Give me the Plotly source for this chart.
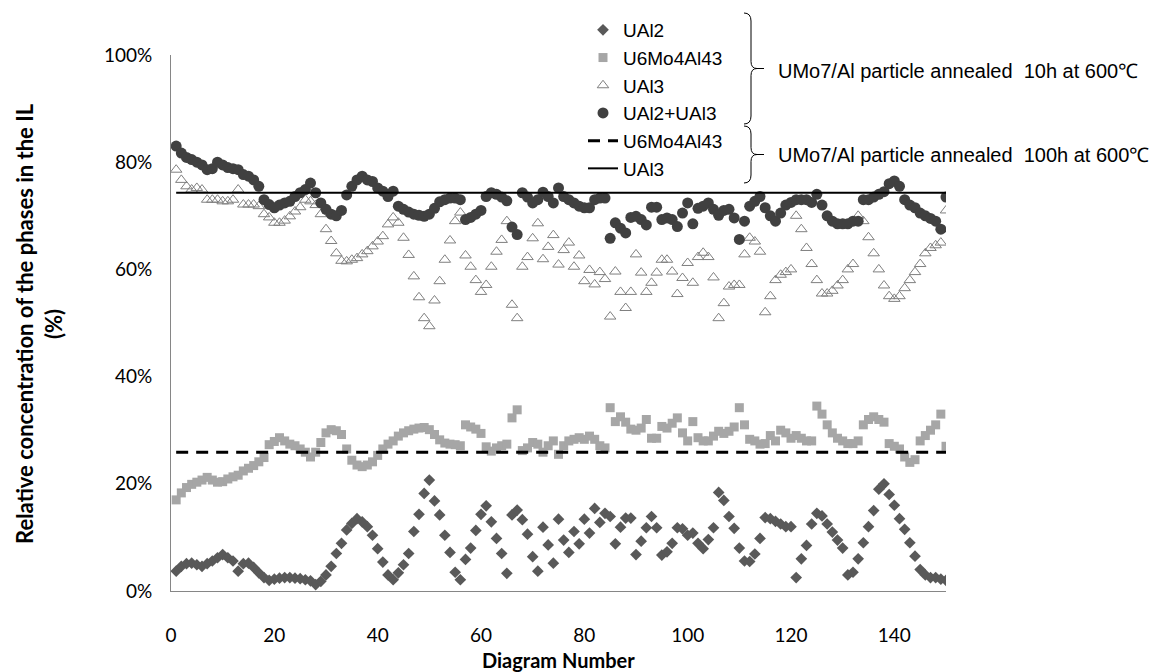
import plotly.graph_objects as go

diagram = list(range(1, 151))

ual2 = [3.7, 4.6, 5.1, 5.2, 4.9, 4.6, 5.1, 5.6, 6.2, 6.8, 6.2, 5.6, 3.7, 5.1, 5.2, 4.4, 3.4, 2.5, 2.0, 2.2,
        2.4, 2.5, 2.5, 2.4, 2.3, 2.1, 1.9, 1.2, 1.8, 3.0, 4.6, 7.0, 8.9, 11.4, 12.6, 13.5, 12.9, 12.0, 10.4, 7.9,
        5.4, 3.0, 2.1, 3.4, 4.9, 7.0, 11.1, 14.3, 18.2, 20.7, 16.8, 14.2, 10.4, 7.2, 3.5, 2.1, 5.9, 8.0, 11.3, 14.3,
        15.9, 12.9, 9.8, 7.0, 3.3, 14.2, 15.1, 13.3, 10.6, 6.4, 3.7, 11.9, 8.6, 5.2, 13.4, 9.5, 7.2, 11.1, 8.8, 13.4,
        10.8, 15.4, 12.8, 14.5, 13.9, 8.8, 11.9, 13.6, 13.6, 6.8, 9.3, 11.8, 13.9, 11.8, 6.7, 7.3, 8.9, 11.8, 11.6, 10.4,
        10.8, 8.9, 7.9, 9.6, 11.8, 18.4, 16.9, 13.9, 11.7, 8.0, 5.6, 5.5, 6.9, 9.8, 13.7, 13.5, 13.0, 12.5, 12.0, 12.0,
        2.5, 6.0, 8.5, 12.5, 14.5, 14.0, 12.5, 11.0, 9.5, 8.0, 3.0, 3.5, 6.0, 9.0, 12.0, 15.0, 19.0, 20.0, 18.0, 16.0,
        13.5, 11.5, 9.0, 6.5, 4.0, 3.0, 2.5, 2.5, 2.2, 2.0]

u6mo4al43 = [17.0, 18.3, 19.3, 19.9, 20.3, 20.7, 21.2, 20.7, 20.3, 20.4, 20.9, 21.3, 21.6, 22.4, 22.9, 23.4, 24.1, 24.9, 27.3, 27.9,
             28.6, 28.0, 27.4, 27.1, 26.5, 25.9, 25.0, 25.9, 27.7, 29.5, 30.1, 29.9, 29.2, 26.5, 24.4, 23.5, 23.2, 23.5, 24.1, 25.3,
             26.5, 27.4, 28.0, 28.9, 29.5, 29.9, 30.2, 30.4, 30.5, 30.1, 29.2, 28.2, 27.6, 27.4, 27.3, 27.1, 31.0, 30.6, 30.2, 29.4,
             26.9, 26.1, 26.7, 27.1, 27.4, 32.3, 33.8, 26.2, 26.7, 27.7, 27.4, 25.9, 27.1, 28.0, 25.5, 27.1, 28.0, 28.3, 28.6, 28.3,
             28.9, 28.3, 27.1, 26.7, 34.2, 31.6, 32.5, 31.5, 30.2, 30.0, 30.4, 32.0, 28.5, 28.5, 30.7, 30.4, 31.3, 32.3, 29.5, 28.0,
             31.6, 28.6, 28.0, 28.0, 28.9, 29.8, 29.4, 29.8, 30.6, 34.2, 31.0, 28.3, 28.0, 27.4, 27.5, 29.0, 28.0, 30.0, 29.5, 28.5,
             29.0, 28.5, 28.0, 28.0, 34.5, 33.0, 31.0, 29.5, 28.5, 28.0, 27.5, 27.5, 28.0, 31.0, 32.0, 32.5, 32.0, 31.5, 27.5, 27.0,
             26.5, 25.0, 24.0, 24.5, 28.0, 29.0, 30.0, 31.0, 33.0, 27.0]

ual3 = [78.6, 76.7, 75.5, 74.9, 75.2, 74.9, 73.0, 73.0, 73.0, 72.7, 72.7, 73.0, 74.9, 72.1, 72.1, 72.1, 71.8, 70.3, 69.7, 68.7,
        68.7, 69.1, 69.9, 70.8, 71.6, 73.0, 72.7, 72.0, 70.3, 67.5, 65.3, 63.0, 61.6, 61.5, 61.8, 62.1, 62.8, 63.4, 64.3, 65.2,
        66.2, 68.4, 69.7, 68.7, 65.9, 62.7, 58.7, 54.8, 50.9, 49.4, 54.2, 57.8, 61.8, 65.4, 69.0, 70.6, 62.6, 60.5, 58.0, 55.8,
        57.1, 60.5, 63.3, 65.5, 69.0, 53.4, 50.9, 60.5, 62.3, 65.8, 68.6, 61.9, 64.2, 66.4, 60.9, 63.6, 65.0, 60.5, 62.6, 57.8,
        59.9, 57.2, 59.5, 58.2, 51.2, 59.6, 55.8, 52.8, 55.8, 62.8, 59.4, 55.8, 57.5, 59.4, 61.8, 61.8, 59.6, 55.4, 58.4, 61.2,
        57.5, 62.3, 63.1, 62.3, 58.5, 50.9, 53.7, 56.8, 57.1, 57.1, 62.8, 65.9, 65.2, 63.3, 52.0, 55.0, 58.0, 59.0, 59.5, 60.0,
        70.0, 67.5, 64.0, 61.0, 58.0, 55.5, 55.5, 56.0, 57.0, 58.0, 60.0, 61.0, 70.0, 69.0, 66.0, 63.0, 60.0, 57.0, 55.0, 54.5,
        55.0, 56.5, 58.0, 59.5, 61.0, 63.0, 64.0, 64.5, 65.0, 71.0]

ual2_ual3 = [83.0, 81.7, 80.9, 80.5, 80.0, 79.5, 78.6, 78.8, 80.0, 79.5, 79.0, 78.8, 78.6, 77.7, 77.4, 76.7, 75.5, 73.0, 72.1, 71.5,
             72.0, 72.4, 72.7, 73.6, 74.3, 74.9, 76.1, 74.3, 72.4, 71.2, 70.3, 70.0, 71.0, 73.9, 75.5, 76.7, 77.4, 76.7, 76.4, 75.2,
             74.6, 73.6, 74.6, 71.8, 71.2, 70.7, 70.3, 70.1, 69.9, 70.3, 71.4, 72.6, 73.0, 73.3, 73.3, 73.0, 69.3, 69.7, 70.3, 71.0,
             73.6, 74.3, 74.0, 73.5, 72.8, 67.9, 66.5, 74.3, 73.5, 72.4, 73.0, 74.4, 73.6, 72.4, 75.2, 73.6, 73.0, 72.4, 71.8, 71.5,
             71.5, 73.0, 73.3, 73.3, 65.8, 68.7, 67.7, 66.8, 69.7, 69.9, 69.3, 68.3, 71.6, 71.6, 69.3, 69.6, 69.3, 68.0, 70.5, 72.4,
             68.5, 71.4, 71.8, 72.4, 71.2, 70.1, 71.0, 71.2, 69.6, 65.6, 69.0, 71.8, 72.7, 73.6, 71.5, 70.0, 69.0, 70.5, 72.0, 72.5,
             73.0, 73.0, 73.0, 72.5, 74.0, 72.0, 70.0, 69.0, 68.5, 68.5, 68.5, 69.0, 69.0, 73.0, 73.0, 73.5, 74.0, 74.5, 76.0, 76.5,
             75.5, 73.0, 72.0, 71.5, 70.5, 70.0, 69.5, 69.0, 67.5, 73.5]

line_x = [1, 150]
u6mo4al43_100h = [25.9, 25.9]
ual3_100h = [74.3, 74.3]

x_ticks = [0, 20, 40, 60, 80, 100, 120, 140]
y_ticks = [0, 20, 40, 60, 80, 100]
y_ticktext = ["0%", "20%", "40%", "60%", "80%", "100%"]

FONT = "Lato"
ARIAL = "Liberation Sans"
W, H = 1167, 672
L, R, T, B = 163, 229, 47, 89
PW, PH = W - L - R, H - T - B


def px(xp):
    return (xp - L) / PW


def py(yp):
    return (H - B - yp) / PH


fig = go.Figure()
fig.add_trace(go.Scatter(x=diagram, y=ual2, mode="markers", name="UAl2", legendgroup="a",
                         marker=dict(symbol="diamond", size=9, color="#595959")))
fig.add_trace(go.Scatter(x=diagram, y=u6mo4al43, mode="markers", name="U6Mo4Al43", legendgroup="b",
                         marker=dict(symbol="square", size=9, color="#A6A6A6")))
fig.add_trace(go.Scatter(x=diagram, y=ual3, mode="markers", name="UAl3", legendgroup="c",
                         marker=dict(symbol="triangle-up-open", size=10, color="#7F7F7F", line=dict(width=1))))
fig.add_trace(go.Scatter(x=diagram, y=ual2_ual3, mode="markers", name="UAl2+UAl3", legendgroup="d",
                         marker=dict(symbol="circle", size=11, color="#404040")))
fig.add_trace(go.Scatter(x=line_x, y=u6mo4al43_100h, mode="lines", name="U6Mo4Al43", legendgroup="e",
                         line=dict(color="black", width=3, dash="12px,8px")))
fig.add_trace(go.Scatter(x=line_x, y=ual3_100h, mode="lines", name="UAl3", legendgroup="f",
                         line=dict(color="black", width=2)))


def brace(x0, ytop, ybot, w=7, tip=6):
    ymid = (ytop + ybot) / 2
    return (f"M {px(x0)},{py(ytop)} Q {px(x0 + w)},{py(ytop)} {px(x0 + w)},{py(ytop + 8)} "
            f"L {px(x0 + w)},{py(ymid - 7)} Q {px(x0 + w)},{py(ymid)} {px(x0 + w + tip)},{py(ymid)} "
            f"Q {px(x0 + w)},{py(ymid)} {px(x0 + w)},{py(ymid + 7)} "
            f"L {px(x0 + w)},{py(ybot - 8)} Q {px(x0 + w)},{py(ybot)} {px(x0)},{py(ybot)}")


shapes = [
    dict(type="path", xref="paper", yref="paper", path=brace(736, 5, 116), line=dict(color="black", width=1)),
    dict(type="path", xref="paper", yref="paper", path=brace(736, 118, 175), line=dict(color="black", width=1)),
    dict(type="line", xref="paper", yref="paper", x0=px(749), x1=px(756), y0=py(60.5), y1=py(60.5),
         line=dict(color="black", width=1)),
    dict(type="line", xref="paper", yref="paper", x0=px(749), x1=px(756), y0=py(146.5), y1=py(146.5),
         line=dict(color="black", width=1)),
]

annotations = [
    dict(text="UMo7/Al particle annealed  10h at 600℃", xref="paper", yref="paper", x=px(768), y=py(63),
         xanchor="left", yanchor="middle", showarrow=False, font=dict(family=ARIAL, size=20, color="black")),
    dict(text="UMo7/Al particle annealed  100h at 600℃", xref="paper", yref="paper", x=px(768), y=py(147),
         xanchor="left", yanchor="middle", showarrow=False, font=dict(family=ARIAL, size=20, color="black")),
    dict(text="<b>Diagram Number</b>", xref="paper", yref="paper", x=0.5, y=py(652),
         xanchor="center", yanchor="middle", showarrow=False, font=dict(family=FONT, size=20, color="black")),
    dict(text="<b>Relative concentration of the phases in the IL<br>(%)</b>", xref="paper", yref="paper",
         x=px(31), y=py(316), xanchor="center", yanchor="middle", textangle=-90, showarrow=False,
         font=dict(family=FONT, size=22, color="black")),
]

fig.update_layout(
    width=W, height=H,
    margin=dict(l=L, r=R, t=T, b=B, autoexpand=False),
    paper_bgcolor="white", plot_bgcolor="white",
    font=dict(family=FONT, size=18, color="black"),
    shapes=shapes, annotations=annotations,
    legend=dict(x=px(575), y=py(3), xanchor="left", yanchor="top",
                font=dict(family=ARIAL, size=19, color="black"), tracegroupgap=0,
                bgcolor="rgba(0,0,0,0)", itemwidth=30),
    showlegend=True,
)
fig.update_xaxes(range=[0, 150], tickvals=x_ticks, showgrid=False, zeroline=False, showline=True,
                 linecolor="#868686", linewidth=1, ticks="", ticklabelstandoff=27, automargin=False,
                 tickfont=dict(family=FONT, size=19))
fig.update_yaxes(range=[0, 100], tickvals=y_ticks, ticktext=y_ticktext, showgrid=False, zeroline=False, showline=True,
                 linecolor="#868686", linewidth=1, ticks="", ticklabelstandoff=14, automargin=False,
                 tickfont=dict(family=FONT, size=19))

fig.write_html("out.html")
